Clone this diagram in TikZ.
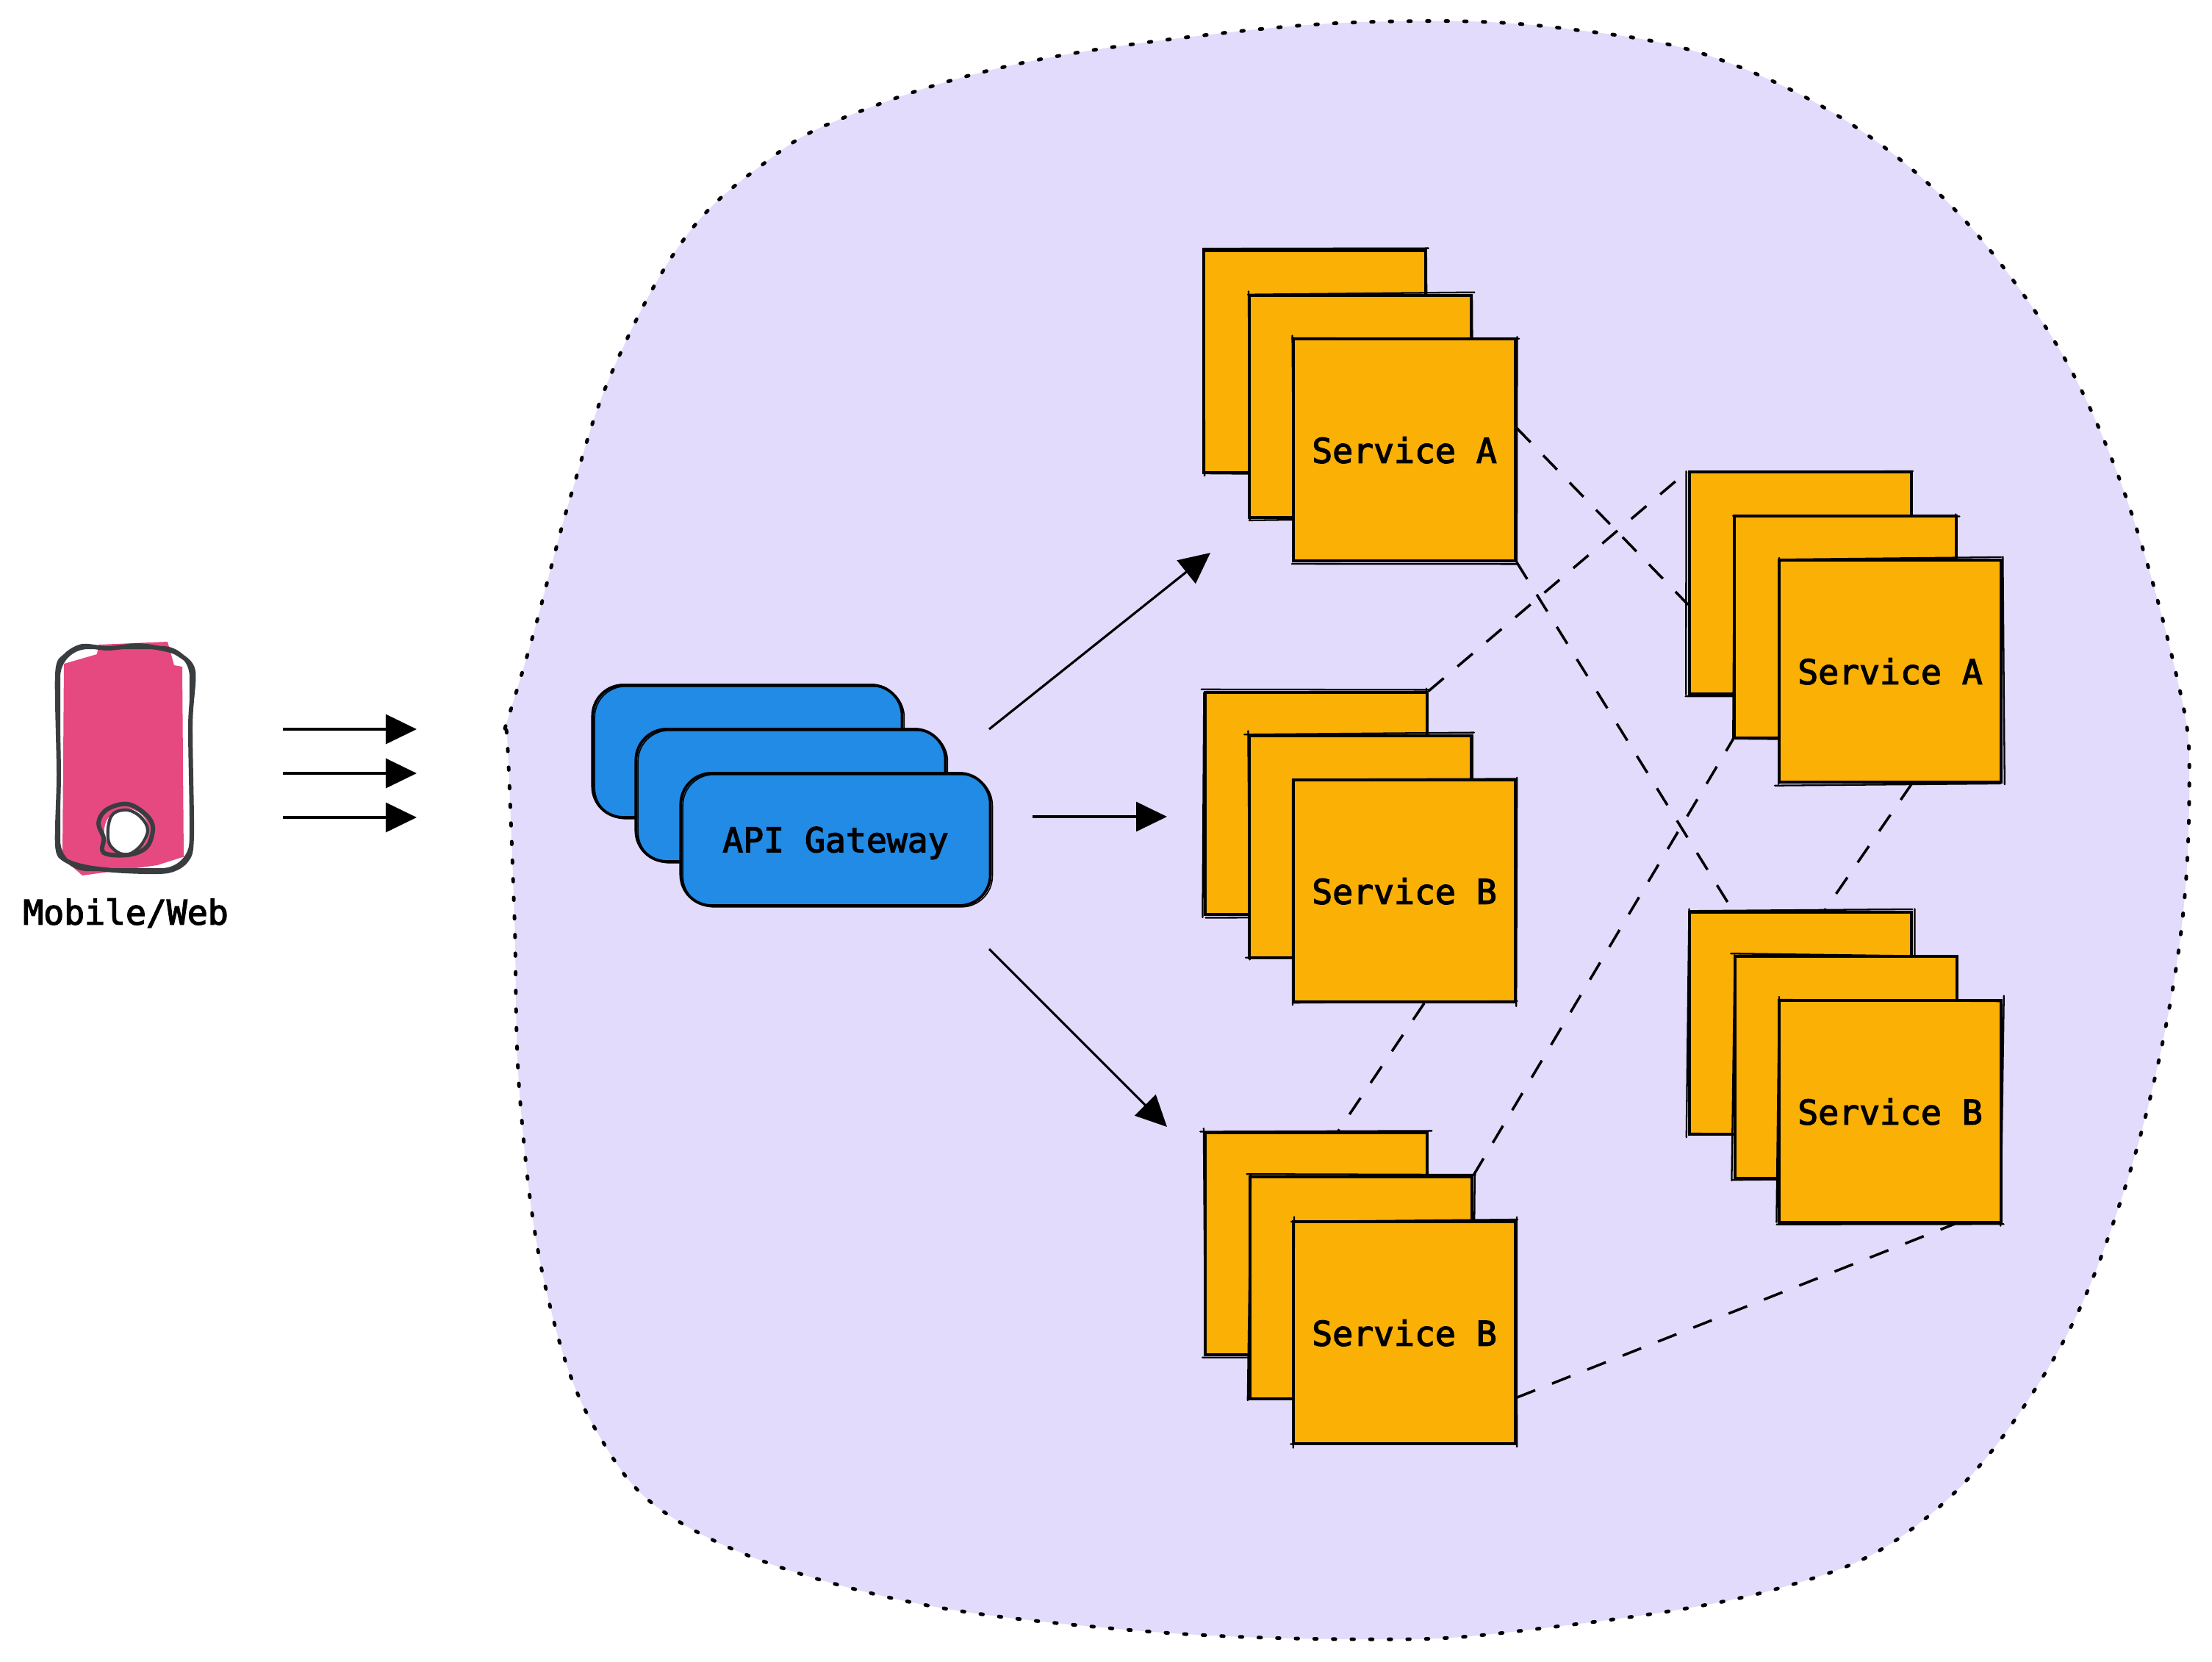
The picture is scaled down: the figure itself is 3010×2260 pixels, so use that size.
\documentclass[tikz,border=0pt]{standalone}
\usepackage{fontspec}
\newfontfamily\lblfont{DejaVu Sans Mono}[FakeBold=2.8]
\usetikzlibrary{arrows.meta}
\definecolor{blobfill}{HTML}{E2DBFB}
\definecolor{svcfill}{HTML}{FAB005}
\definecolor{gwfill}{HTML}{228BE6}
\definecolor{phonefill}{HTML}{E64980}
\definecolor{phoneline}{HTML}{3A3D40}
\pgfmathsetseed{11}
\tikzset{
	lbl/.style={font=\fontsize{13.2}{16}\selectfont\lblfont, text depth=0pt},
	rough/.style={draw=black, line width=.65pt, line cap=round},
	sketched/.style={append after command={
		([shift={(-1+4*rand,3*rand)}]\tikzlastnode.north west) edge[rough] ([shift={(1+4*rand,3*rand)}]\tikzlastnode.north east)
		([shift={(3*rand,-1+4*rand)}]\tikzlastnode.north east) edge[rough] ([shift={(3*rand,1+4*rand)}]\tikzlastnode.south east)
		([shift={(1+4*rand,3*rand)}]\tikzlastnode.south east) edge[rough] ([shift={(-1+4*rand,3*rand)}]\tikzlastnode.south west)
		([shift={(3*rand,1+4*rand)}]\tikzlastnode.south west) edge[rough] ([shift={(3*rand,-1+4*rand)}]\tikzlastnode.north west)
	}},
	svc/.style={lbl, draw=black, fill=svcfill, line width=1pt, inner sep=0pt, minimum width=3.02cm, minimum height=3.02cm, sketched},
	gw/.style={lbl, draw=black, fill=gwfill, line width=1.1pt, rounded corners=.42cm, inner sep=0pt, minimum width=4.21cm, minimum height=1.80cm,
		postaction={draw, line width=.45pt, transform canvas={shift={(.8pt,-.5pt)}}}},
	flow/.style={-{Triangle[length=4.2mm,width=4mm]}, line width=.9pt},
	link/.style={line width=1pt, dash pattern=on 7.7pt off 7pt},
	wobble/.style={draw=phoneline, line width=1.7pt, line join=round},
}
\begin{document}
\begin{tikzpicture}[x=.01cm,y=-.01cm]
	\useasboundingbox (0,0) rectangle (3010,2260);
	% boundary
	\draw[fill=blobfill, line width=1.4pt, line cap=round, dash pattern=on 1pt off 6.2pt]
		plot[smooth, tension=.65] coordinates {(687,991) (724,869) (778,670) (835,501) (931,325) (1040,222) (1151,159) (1371,90) (1655,46) (1900,29) (2131,39) (2354,86) (2578,211) (2750,396) (2871,618) (2960,912) (2979,1081) (2957,1342) (2884,1639) (2778,1876) (2616,2069) (2412,2163) (2074,2218) (1850,2230) (1521,2216) (1196,2170) (934,2076) (813,1949) (743,1754) (708,1500) (700,1247) (691,1020) (687,991)};
	% client
	\fill[phonefill] (134,877) -- (228,873) -- (237,905) -- (248,907) -- (250,1167) -- (261,1162) -- (214,1177) -- (112,1191) -- (85,1167) -- (87,903) -- (132,890) -- cycle;
	\node[draw=phoneline, line width=1.2pt, rounded corners=.4cm, inner sep=0pt, minimum width=1.80cm, minimum height=3.02cm] (phone) at (170,1032) {};
	\draw[wobble] plot[smooth cycle, tension=.5] coordinates {(78,917) (89,892) (112,879) (147,882) (188,878) (223,883) (243,890) (263,913) (259,987) (261,1137) (254,1170) (228,1185) (170,1185) (120,1180) (89,1170) (78,1150) (80,1053)};
	\node[fill=white, circle, inner sep=0pt, minimum size=.6cm] (button) at (172,1130) {};
	\draw[wobble] plot[smooth cycle, tension=.6] coordinates {(134,1120) (143,1103) (165,1094) (183,1097) (203,1113) (208,1130) (199,1153) (174,1163) (141,1160) (141,1140)};
	\draw[wobble, line width=1.2pt] plot[smooth cycle, tension=.6] coordinates {(147,1127) (154,1107) (174,1102) (192,1112) (201,1130) (190,1152) (170,1163) (150,1150)};
	\node[lbl] (client) at (171,1240) {Mobile/Web};
	\coordinate (out1) at (385,992);
	\coordinate (out2) at (385,1052);
	\coordinate (out3) at (385,1112);
	\coordinate (in1) at (567,992);
	\coordinate (in2) at (567,1052);
	\coordinate (in3) at (567,1112);
	\draw[flow] (out1) -- (in1);
	\draw[flow] (out2) -- (in2);
	\draw[flow] (out3) -- (in3);
	% gateway
	\node[gw] (gw1) at (1017,1022) {};
	\node[gw] (gw2) at (1076,1082) {};
	\node[gw] (gw3) at (1137,1142) {API Gateway};
	% first column
	\node[svc] (a1) at (1789,492) {};
	\node[svc] (a2) at (1851,553) {};
	\node[svc] (a3) at (1911,612) {Service A};
	\node[svc] (b1) at (1791,1093) {};
	\node[svc] (b2) at (1851,1152) {};
	\node[svc] (b3) at (1911,1212) {Service B};
	\node[svc] (c1) at (1791,1692) {};
	\node[svc] (c2) at (1852,1752) {};
	\node[svc] (c3) at (1911,1813) {Service B};
	% second column
	\node[svc] (d1) at (2450,793) {};
	\node[svc] (d2) at (2511,853) {};
	\node[svc] (d3) at (2572,913) {Service A};
	\node[svc] (e1) at (2450,1392) {};
	\node[svc] (e2) at (2512,1452) {};
	\node[svc] (e3) at (2572,1512) {Service B};
	% requests
	\coordinate (gwa) at (1346,992);
	\coordinate (gwb) at (1405,1111);
	\coordinate (gwc) at (1346,1291);
	\coordinate (ina) at (1647,752);
	\coordinate (inb) at (1588,1111);
	\coordinate (inc) at (1588,1533);
	\draw[flow] (gwa) -- (ina);
	\draw[flow] (gwb) -- (inb);
	\draw[flow] (gwc) -- (inc);
	% calls between services
	\draw[link] (a3.11) -- (d1.191);
	\draw[link] (a3.south east) -- (e1.121);
	\draw[link] (b1.north east) -- (d1.north west);
	\draw[link] (b3.280) -- (c1.79);
	\draw[link] (c2.north east) -- (d2.south west);
	\draw[link] (d3.281) -- (e1.78);
	\draw[link] (c3.330) -- (e3.300);
\end{tikzpicture}
\end{document}
